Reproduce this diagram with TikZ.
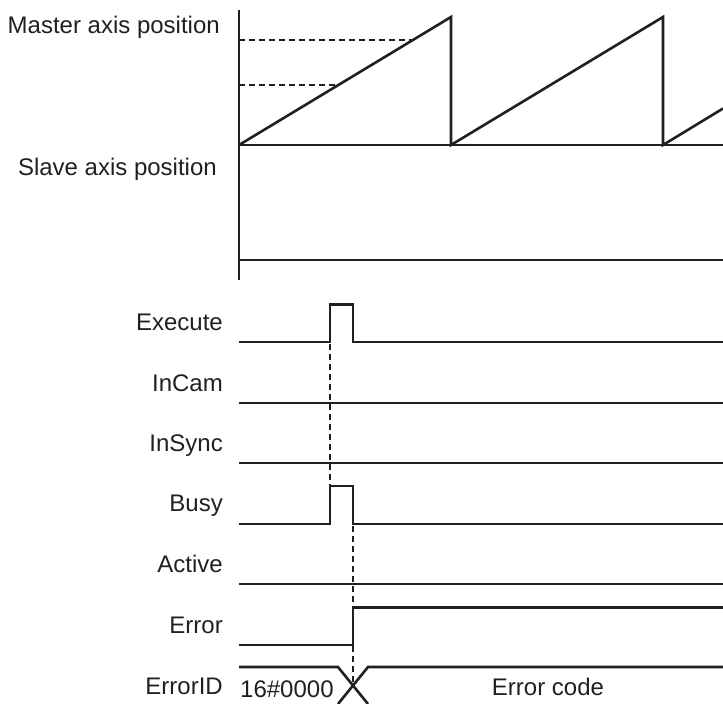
\documentclass[tikz,border=0pt]{standalone}
\usepackage{fontspec}
\setmainfont{Liberation Sans}
\usepackage{xcolor}
\definecolor{ink}{HTML}{231F20}
\usetikzlibrary{positioning}

\begin{document}
\begin{tikzpicture}[x=1pt,y=-1pt,
    wave/.style={draw=ink,line width=2.6pt},
    guide/.style={draw=ink,line width=1.3pt,dash pattern=on 6pt off 4pt},
    lbl/.style={anchor=base east,inner sep=0pt,text=ink,font=\fontsize{24}{27}\selectfont}]
  \useasboundingbox (0,0) rectangle (723,704);

  % axis positions
  \draw[ink,line width=2.2pt] (239,10) -- (239,280);
  \node[lbl] (master) at (220,33) {Master axis position};
  \node[lbl] (slave) at (217,175) {Slave axis position};
  \draw[guide] (239,40) -- (412,40);
  \draw[guide] (239,85) -- (338,85);
  \draw[wave] (239,145) -- (723,145);
  \draw[wave,line join=miter] (239,145) -- (451,17) -- (451,145) -- (663,17) -- (663,145) -- (723,108.5);
  \draw[wave] (239,260) -- (723,260);

  % signals
  \node[lbl] (execute) at (223,330) {Execute};
  \node[lbl] (incam) at (223,391) {InCam};
  \node[lbl] (insync) at (223,451) {InSync};
  \node[lbl] (busy) at (223,511) {Busy};
  \node[lbl] (active) at (223,572) {Active};
  \node[lbl] (error) at (223,633) {Error};
  \node[lbl] (errorid) at (223,694) {ErrorID};

  \draw[wave] (239,342) -- (330,342) -- (330,304.5) -- (353,304.5) -- (353,342) -- (723,342);
  \draw[wave] (239,403) -- (723,403);
  \draw[wave] (239,463) -- (723,463);
  \draw[wave] (239,524) -- (330,524) -- (330,486) -- (353,486) -- (353,524) -- (723,524);
  \draw[wave] (239,584) -- (723,584);
  \draw[wave] (239,645) -- (353,645) -- (353,607.5) -- (723,607.5);

  % ErrorID
  \draw[wave] (239,667) -- (338,667) -- (368,704);
  \draw[wave] (338,704) -- (368,667) -- (723,667);
  \node[lbl,anchor=base west] (code0) at (240,697) {16\#0000};
  \node[lbl,anchor=base] (errcode) at (548,695) {Error code};

  \draw[guide] (330,344) -- (330,485);
  \draw[guide] (353,526) -- (353,688);
\end{tikzpicture}
\end{document}
